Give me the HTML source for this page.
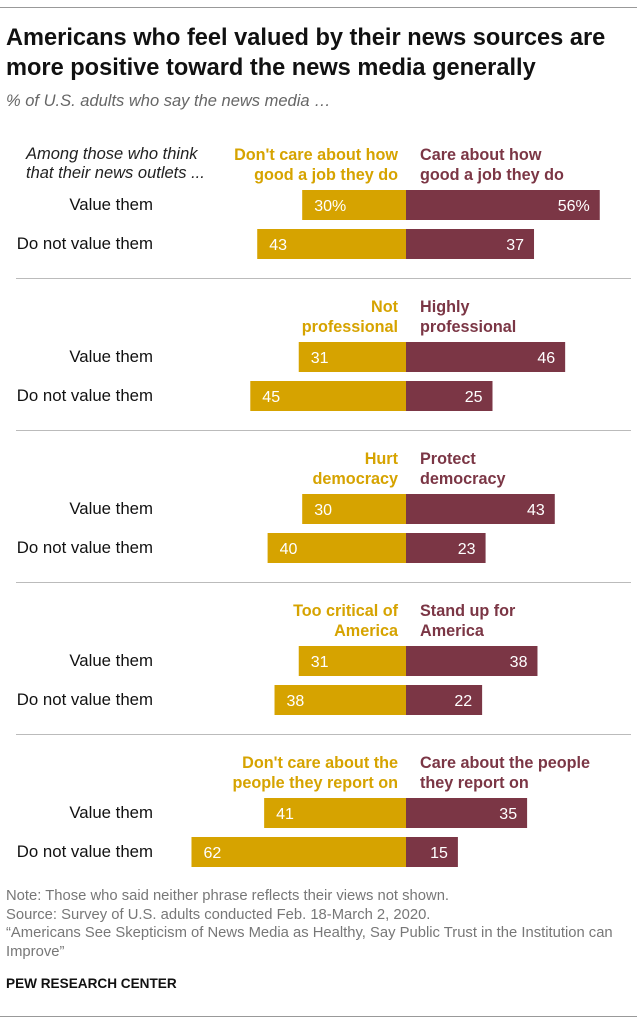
<!DOCTYPE html>
<html><head><meta charset="utf-8"><style>
body{margin:0;width:637px;height:1024px;background:#fff;font-family:"Liberation Sans",sans-serif;position:relative;overflow:hidden}
.a{position:absolute;white-space:nowrap}
</style></head><body>
<div class="a" style="left:0;top:7px;width:637px;height:1px;background:#999"></div>
<div class="a" style="left:6px;top:23px;font-size:23.6px;font-weight:bold;line-height:30px;color:#111">Americans who feel valued by their news sources are<br>more positive toward the news media generally</div>
<div class="a" style="left:6px;top:92px;font-size:16.5px;font-style:italic;color:#666">% of U.S. adults who say the news media …</div>
<div class="a" style="left:26px;top:145px;font-size:16.5px;font-style:italic;line-height:19px;color:#222">Among those who think<br>that their news outlets ...</div>
<svg id="chart" class="a" style="left:0;top:0" width="637" height="1024"></svg>
<div class="a" style="left:6px;top:887px;font-size:14.8px;line-height:18.5px;color:#777">Note: Those who said neither phrase reflects their views not shown.<br>Source: Survey of U.S. adults conducted Feb. 18-March 2, 2020.<br>“Americans See Skepticism of News Media as Healthy, Say Public Trust in the Institution can<br>Improve”</div>
<div class="a" style="left:6px;top:976px;font-size:13.6px;font-weight:bold;color:#111">PEW RESEARCH CENTER</div>
<div class="a" style="left:0;top:1016px;width:637px;height:1px;background:#999"></div>
<script>
const negLabels=[["Don't care about how","good a job they do"],["Not","professional"],["Hurt","democracy"],["Too critical of","America"],["Don't care about the","people they report on"]];
const posLabels=[["Care about how","good a job they do"],["Highly","professional"],["Protect","democracy"],["Stand up for","America"],["Care about the people","they report on"]];
const rowLabels=["Value them","Do not value them"];
const negValue=[30,31,30,31,41];
const negNotValue=[43,45,40,38,62];
const posValue=[56,46,43,38,35];
const posNotValue=[37,25,23,22,15];
const svg=document.getElementById('chart');const NS='http://www.w3.org/2000/svg';
const cx=406,k=3.46,GOLD='#D6A300',MAR='#7B3645';
const x=v=>v*k;
function mk(t,a,txt){const e=document.createElementNS(NS,t);for(const n in a)e.setAttribute(n,a[n]);if(txt!==undefined)e.textContent=txt;svg.appendChild(e);return e;}
for(let p=0;p<5;p++){
 const oy=p*152;
 negLabels[p].forEach((s,i)=>{const e=mk('text',{x:cx-8,y:160+oy+i*20,'text-anchor':'end','font-size':16.2,'font-weight':'bold',fill:GOLD},s);
 
 });
 posLabels[p].forEach((s,i)=>{const e=mk('text',{x:cx+14,y:160+oy+i*20,'font-size':16.2,'font-weight':'bold',fill:MAR},s);
 
 });
 const rows=[[negValue[p],posValue[p]],[negNotValue[p],posNotValue[p]]];
 rows.forEach((r,j)=>{
  const y=190+oy+j*39,h=30;
  const lb=mk('text',{x:153,y:y+20,'text-anchor':'end','font-size':16.8,fill:'#111'},rowLabels[j]);
  
  
  const b1=mk('rect',{x:cx-x(r[0]),y:y,width:x(r[0]),height:h,fill:GOLD});
  
  
  const b2=mk('rect',{x:cx,y:y,width:x(r[1]),height:h,fill:MAR});
  
  
  const pc=(p==0&&j==0)?'%':'';
  const t1=mk('text',{x:cx-x(r[0])+12,y:y+21,'font-size':16,fill:'#fff'},r[0]+pc);
  
  
  const t2=mk('text',{x:cx+x(r[1])-10,y:y+21,'text-anchor':'end','font-size':16,fill:'#fff'},r[1]+pc);
  
  
 });
 if(p<4){const l=mk('rect',{x:16,y:278+oy,width:615,height:1,fill:'#bbb'});
 
 }
}
</script>
</body></html>
